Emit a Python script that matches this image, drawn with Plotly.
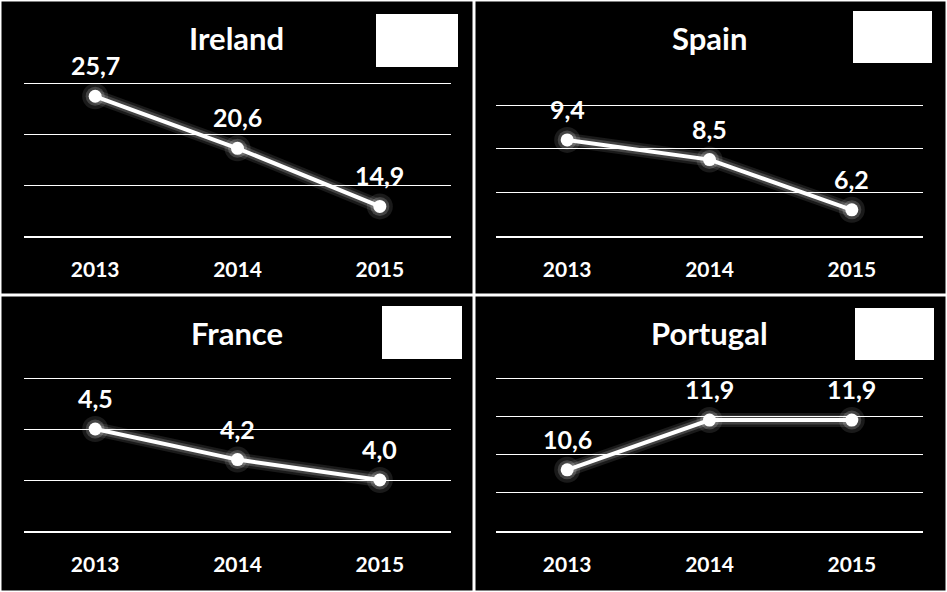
import plotly.graph_objects as go

W, H = 947, 592

years = ["2013", "2014", "2015"]
countries = ["Ireland", "Spain", "France", "Portugal"]
ireland = [25.7, 20.6, 14.9]
spain = [9.4, 8.5, 6.2]
france = [4.5, 4.2, 4.0]
portugal = [10.6, 11.9, 11.9]
values = [ireland, spain, france, portugal]

ticks_ireland = [12, 17, 22, 27]
ticks_spain = [5, 7, 9, 11]
ticks_france = [3.5, 4.0, 4.5, 5.0]
ticks_portugal = [9, 10, 11, 12, 13]
yticks = [ticks_ireland, ticks_spain, ticks_france, ticks_portugal]

# layout boxes in pixels: (x0, x1, ytop, ybottom)
plot_boxes = [(24, 451, 83, 236), (496, 923, 105, 236),
              (24, 451, 378, 531), (496, 923, 378, 531)]
title_pos = [(237, 38), (709, 38), (237, 333), (709, 333)]
white_boxes = [(376, 458, 14, 67), (853, 932, 11, 63),
               (382, 462, 306, 359), (855, 934, 308, 360)]

FONT = "Lato"
PAD = 0.04  # headroom so the top gridline is drawn

def px(x):
    return x / W

def py(y):
    return 1 - y / H

fig = go.Figure()
layout = dict(
    width=W, height=H,
    margin=dict(l=0, r=0, t=0, b=0),
    paper_bgcolor="black", plot_bgcolor="black",
    showlegend=False,
    shapes=[], annotations=[],
)

for i, (name, vals, tv) in enumerate(zip(countries, values, yticks)):
    n = i + 1
    xa = "x" if n == 1 else f"x{n}"
    ya = "y" if n == 1 else f"y{n}"
    # glow layers
    for w, ms, a in [(14, 26, 0.10), (9, 19, 0.18)]:
        fig.add_trace(go.Scatter(
            x=years, y=vals, xaxis=xa, yaxis=ya, mode="lines+markers",
            line=dict(color=f"rgba(255,255,255,{a})", width=w),
            marker=dict(size=ms, color=f"rgba(255,255,255,{a})"),
            hoverinfo="skip", cliponaxis=False))
    fig.add_trace(go.Scatter(
        x=years, y=vals, xaxis=xa, yaxis=ya, mode="lines+markers",
        line=dict(color="white", width=4),
        marker=dict(size=13, color="white"), cliponaxis=False, name=name))
    x0, x1, yt, yb = plot_boxes[i]
    span = tv[-1] - tv[0]
    yt_ext = yt - PAD * (yb - yt)
    layout[f"xaxis{'' if n == 1 else n}"] = dict(
        domain=[px(x0), px(x1)], anchor=ya, type="category",
        range=[-0.5, 2.5], showgrid=False, zeroline=False,
        showline=True, linecolor="white", linewidth=2,
        ticks="", ticklabelstandoff=14,
        tickfont=dict(family=FONT, size=21, color="white", weight="bold"),
        fixedrange=True)
    layout[f"yaxis{'' if n == 1 else n}"] = dict(
        domain=[py(yb), py(yt_ext)], anchor=xa,
        range=[tv[0], tv[-1] + span * PAD], tickvals=tv,
        showticklabels=False,
        showgrid=True, gridcolor="white", gridwidth=1, zeroline=False,
        showline=False, fixedrange=True)
    for j, v in enumerate(vals):
        layout["annotations"].append(dict(
            x=j, y=v, xref=xa, yref=ya, yshift=31, showarrow=False,
            text=f"{v:.1f}".replace(".", ","),
            font=dict(family=FONT, size=25, color="white", weight="bold")))
    tx, ty = title_pos[i]
    layout["annotations"].append(dict(
        x=px(tx), y=py(ty), xref="paper", yref="paper", showarrow=False,
        text=name, xanchor="center", yanchor="middle",
        font=dict(family=FONT, size=31, color="white", weight="bold")))
    bx0, bx1, by0, by1 = white_boxes[i]
    layout["shapes"].append(dict(
        type="rect", xref="paper", yref="paper",
        x0=px(bx0), x1=px(bx1), y0=py(by1), y1=py(by0),
        fillcolor="white", line=dict(width=0)))

# panel separators and outer border
layout["shapes"] += [
    dict(type="line", xref="paper", yref="paper", x0=px(474), x1=px(474),
         y0=0, y1=1, line=dict(color="white", width=3)),
    dict(type="line", xref="paper", yref="paper", x0=0, x1=1,
         y0=py(295), y1=py(295), line=dict(color="white", width=3)),
    dict(type="rect", xref="paper", yref="paper", x0=0, x1=1, y0=0, y1=1,
         line=dict(color="white", width=3)),
]

fig.update_layout(**layout)
fig.write_html("out.html", config={"displayModeBar": False},
               post_script="document.body.style.margin='0';"
                           "document.body.style.overflow='hidden';")
